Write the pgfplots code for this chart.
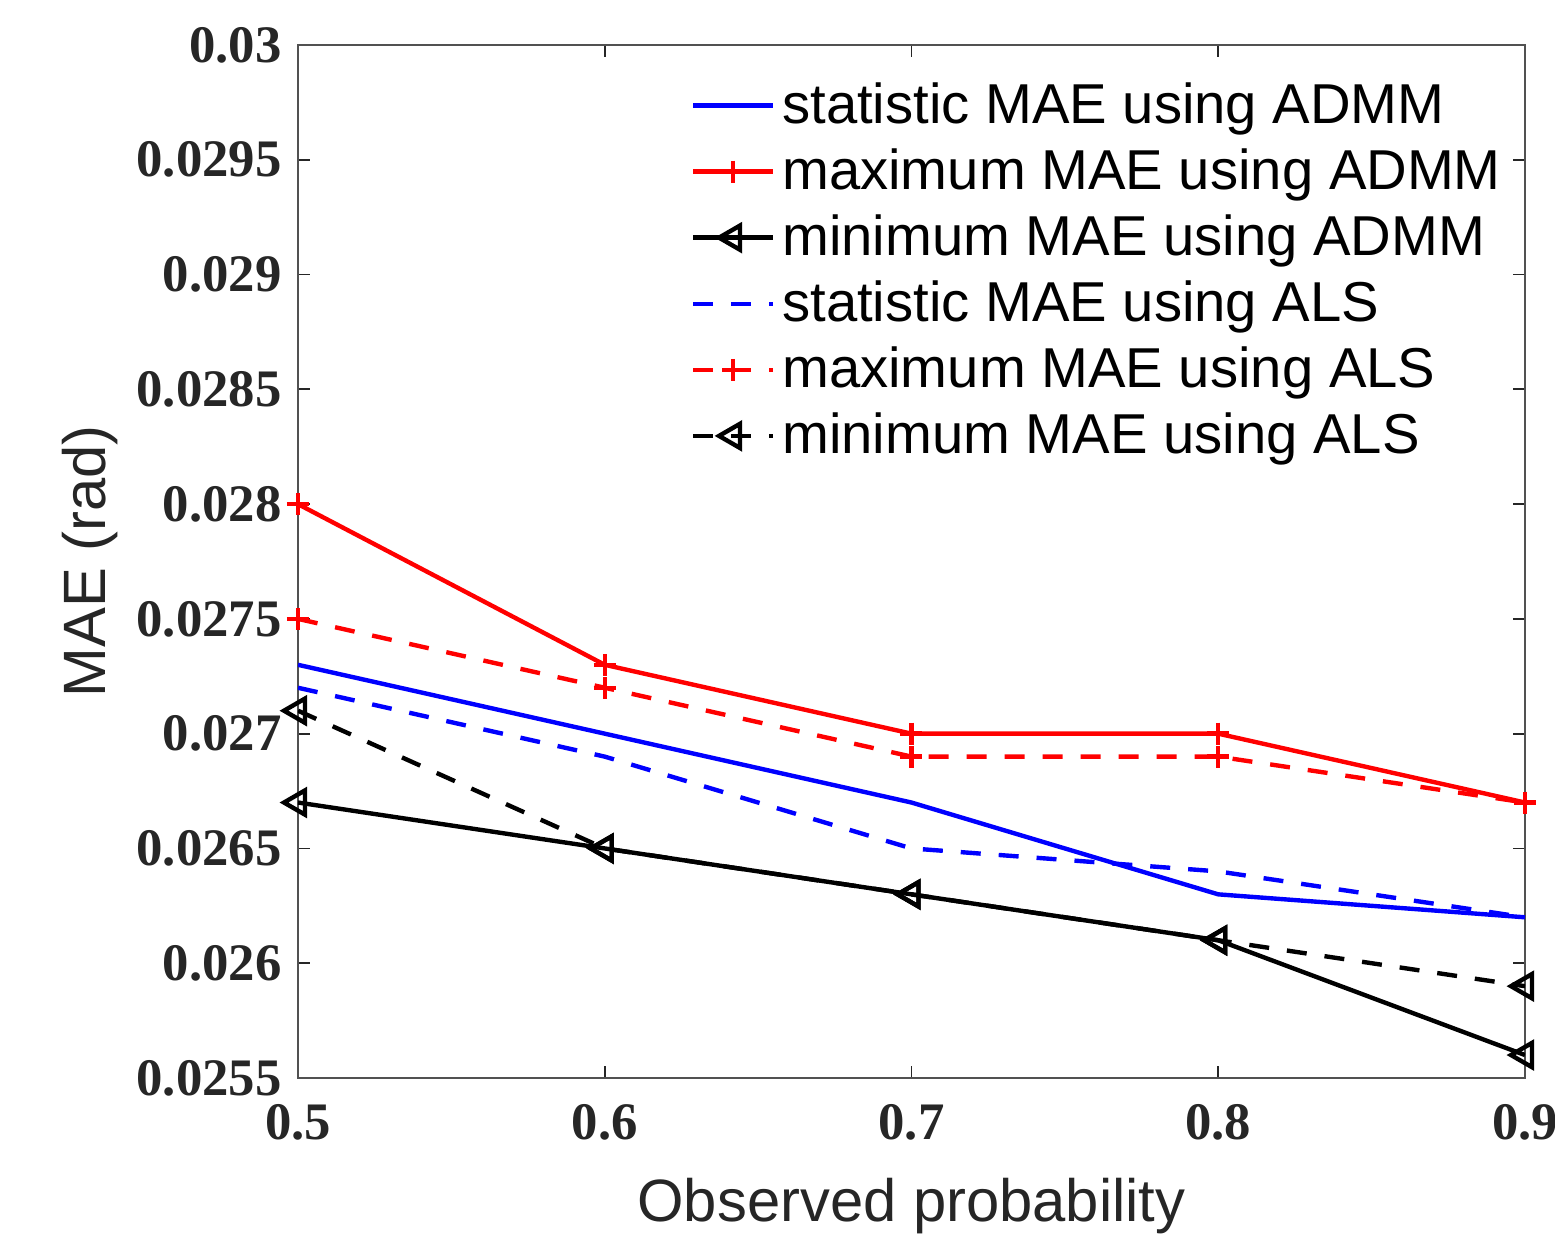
\documentclass[border=0pt]{standalone}
\usepackage{pgfplots}
\pgfplotsset{compat=1.18}
\usepackage{fontspec}
\setmainfont{Liberation Serif}
\newfontfamily\lsans{Liberation Sans}
\definecolor{axgray}{RGB}{38,38,38}

\begin{document}
\begin{tikzpicture}
\useasboundingbox (-2.98cm,-1.66cm) rectangle (12.57cm,10.78cm);
\begin{axis}[
  scale only axis,
  width=12.27cm, height=10.33cm,
  xmin=0.5, xmax=0.9, ymin=0.0255, ymax=0.03,
  xtick={0.5,0.6,0.7,0.8,0.9},
  xticklabels={0.5,0.6,0.7,0.8,0.9},
  ytick={0.0255,0.026,0.0265,0.027,0.0275,0.028,0.0285,0.029,0.0295,0.03},
  yticklabels={0.0255,0.026,0.0265,0.027,0.0275,0.028,0.0285,0.029,0.0295,0.03},
  scaled y ticks=false,
  tick align=inside, major tick length=1.2mm,
  axis line style={axgray!80, line width=0.5pt},
  every tick/.style={axgray, line width=0.5pt},
  tick label style={font=\fontsize{15}{15}\selectfont\bfseries, text=axgray},
  yticklabel style={xshift=-0.4mm},
  xticklabel style={yshift=-1.4mm},
  xlabel={Observed probability},
  ylabel={MAE (rad)},
  label style={font=\lsans\fontsize{17}{17}\selectfont, text=axgray},
  xlabel style={yshift=-1.4mm},
  ylabel style={yshift=-0.5mm},
  legend style={draw=none, fill=none, at={(0.311,0.978)}, anchor=north west,
    font=\lsans\fontsize{16}{16}\selectfont, row sep=0.6mm,
    /tikz/every even column/.append style={column sep=0.5mm}},
  legend cell align=left,
  legend image code/.code={
    \draw[mark repeat=2,mark phase=2] plot coordinates {(0cm,0cm) (0.4cm,0cm) (0.8cm,0cm)};},
  every axis plot/.append style={line width=1.25pt},
]
\addplot[blue, mark=none] coordinates {
 (0.5,0.0273) (0.6,0.0270) (0.7,0.0267) (0.8,0.0263) (0.9,0.0262)};
\addlegendentry{statistic MAE using ADMM}
\addplot[red, mark=+, mark size=1.1mm] coordinates {
 (0.5,0.0280) (0.6,0.0273) (0.7,0.0270) (0.8,0.0270) (0.9,0.0267)};
\addlegendentry{maximum MAE using ADMM}
\addplot[black, mark=triangle, mark size=1.4mm, mark options={rotate=90, solid}] coordinates {
 (0.5,0.0267) (0.6,0.0265) (0.7,0.0263) (0.8,0.0261) (0.9,0.0256)};
\addlegendentry{minimum MAE using ADMM}
\addplot[blue, dash pattern=on 2mm off 1.8mm, mark=none] coordinates {
 (0.5,0.0272) (0.6,0.0269) (0.7,0.0265) (0.8,0.0264) (0.9,0.0262)};
\addlegendentry{statistic MAE using ALS}
\addplot[red, dash pattern=on 2mm off 1.8mm, mark=+, mark size=1.1mm, mark options={solid}] coordinates {
 (0.5,0.0275) (0.6,0.0272) (0.7,0.0269) (0.8,0.0269) (0.9,0.0267)};
\addlegendentry{maximum MAE using ALS}
\addplot[black, dash pattern=on 2mm off 1.8mm, mark=triangle, mark size=1.4mm, mark options={rotate=90, solid}] coordinates {
 (0.5,0.0271) (0.6,0.0265) (0.7,0.0263) (0.8,0.0261) (0.9,0.0259)};
\addlegendentry{minimum MAE using ALS}
\end{axis}
\end{tikzpicture}
\end{document}
